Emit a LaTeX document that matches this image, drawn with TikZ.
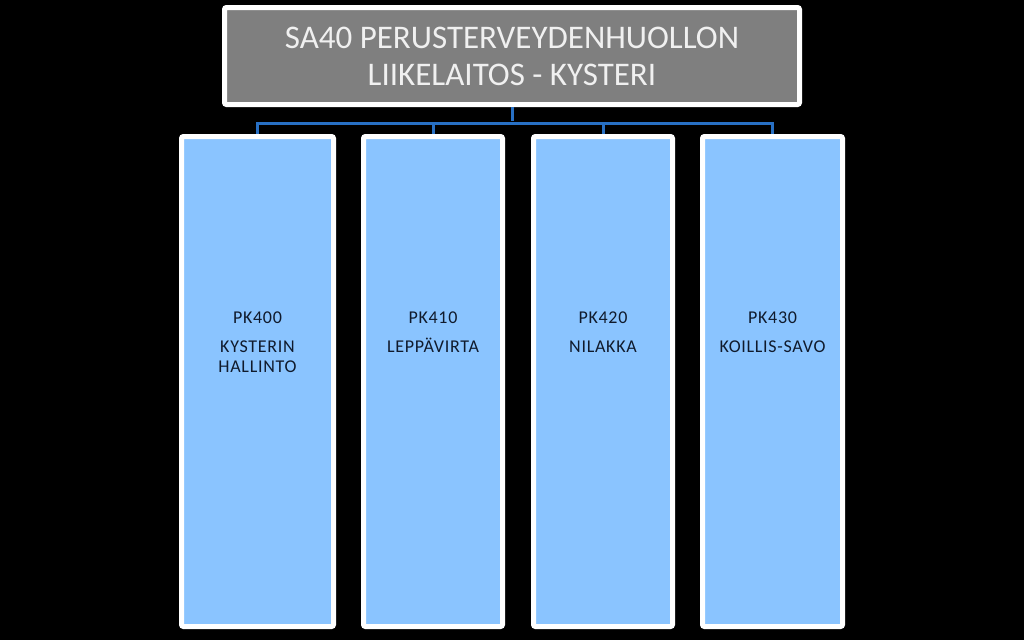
\documentclass[tikz,border=0pt]{standalone}
\usepackage{fontspec}
\setmainfont{Carlito}
\usepackage{tikz}
\usetikzlibrary{positioning}
\definecolor{kgray}{RGB}{127, 127, 127}
\definecolor{kblue}{RGB}{138, 196, 255}
\definecolor{kline}{RGB}{40, 112, 196}
\definecolor{ktext}{RGB}{16, 26, 44}
\tikzset{headbox/.style = {draw=white, line width=5pt, rounded corners=2pt,
                           fill=kgray, text=white!94!black, align=center,
                           font=\fontsize{33}{37}\selectfont,
                           minimum width=575pt, minimum height=97pt},
         unitbox/.style = {draw=white, line width=5pt, rounded corners=2pt,
                           fill=kblue, minimum height=490pt},
         unittext/.style = {anchor=north, inner sep=0pt, align=center, text=ktext,
                            font=\fontsize{18}{20}\selectfont\addfontfeature{LetterSpace=4}},
         conn/.style = {draw=kline, line width=3pt, shorten >=2.5pt}}

\begin{document}
\begin{tikzpicture}[x=1pt, y=-1pt]
      \fill [black] (0, 0) rectangle (1024, 640);
      \useasboundingbox (0, 0) rectangle (1024, 640);

      \node [headbox] (kysteri) at (512, 56) {SA40 PERUSTERVEYDENHUOLLON\\LIIKELAITOS - KYSTERI};
      \coordinate (fork) at (512, 123);

      \draw [conn] (kysteri.south) -- (fork);
      \draw [conn] (fork) -| (257.5, 136.5);
      \draw [conn] (fork) -| (433, 136.5);
      \draw [conn] (fork) -| (603, 136.5);
      \draw [conn] (fork) -| (772.5, 136.5);

      \node [unitbox, minimum width=152pt] (pk400) at (257.5, 381.5) {};
      \node [unitbox, minimum width=139pt] (pk410) at (433, 381.5) {};
      \node [unitbox, minimum width=139pt] (pk420) at (603, 381.5) {};
      \node [unitbox, minimum width=140pt] (pk430) at (772.5, 381.5) {};

      \node [unittext] (t400) at (257.5, 312) {PK400\\[9pt]KYSTERIN\\HALLINTO};
      \node [unittext] (t410) at (433, 312) {PK410\\[9pt]LEPPÄVIRTA};
      \node [unittext] (t420) at (603, 312) {PK420\\[9pt]NILAKKA};
      \node [unittext] (t430) at (772.5, 312) {PK430\\[9pt]KOILLIS-SAVO};
    \end{tikzpicture}
\end{document}
